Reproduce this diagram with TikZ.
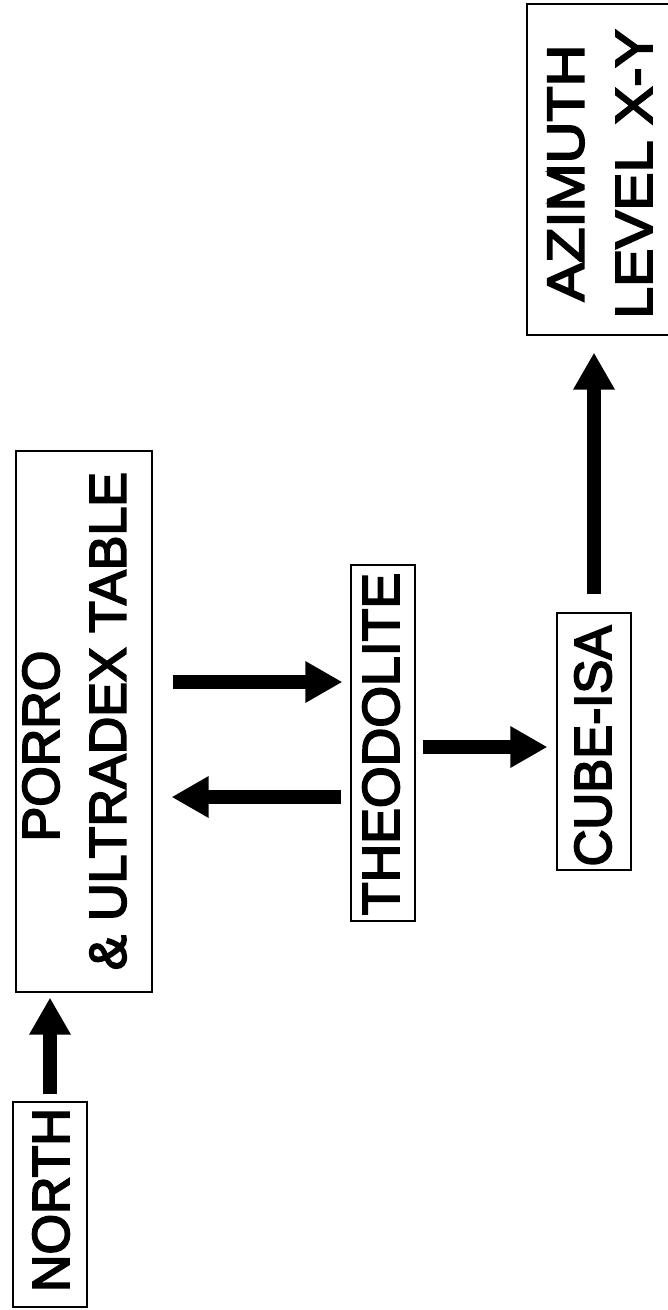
\documentclass[tikz,border=0pt]{standalone}
\usepackage{graphicx}
\usepackage{fontspec}
\setmainfont{Liberation Sans}
\newfontfamily\lblfont[FakeBold=3.5]{Liberation Sans}
\usetikzlibrary{arrows.meta,calc}
\begin{document}
\begin{tikzpicture}[x=1pt,y=-1pt,
  boxnode/.style={draw, line width=1.1pt, inner sep=0pt},
  lbl/.style={rotate=90, inner sep=0pt, font=\lblfont\fontsize{52}{60}\selectfont},
  bigarrow/.style={line width=14pt, -{Triangle[width=39pt,length=37pt]}}]
\clip (0,0) rectangle (668,1310);
% boxes
\node[boxnode, minimum width=74pt, minimum height=205pt] (north) at (50,1204.5) {};
\node[boxnode, minimum width=136pt, minimum height=541pt] (porro) at (84,721.5) {};
\node[boxnode, minimum width=64pt, minimum height=356pt] (theo) at (383,743) {};
\node[boxnode, minimum width=74pt, minimum height=257pt] (cube) at (594,741.5) {};
\node[boxnode, minimum width=183pt, minimum height=331pt] (az) at (618.5,169.5) {};
% labels
\node[lbl] (tnorth) at (51,1200) {NORTH};
\node[lbl] (tporro) at (41,746) {PORRO};
\node[lbl] (tultra) at (108,721) {\& ULTRADEX TABLE};
\node[lbl] (ttheo) at (381,744) {\scalebox{1.03}[1]{THEODOLITE}};
\node[lbl] (tcube) at (593,746) {\scalebox{0.98}[1]{CUBE-ISA}};
\node[lbl] (taz) at (566,173) {\scalebox{1.11}[1]{AZIMUTH}};
\node[lbl] (tlev) at (634,174) {\scalebox{1.10}[1]{LEVEL X-Y}};
% connector anchor points
\coordinate (a2) at ([yshift=61pt]theo.west);
\coordinate (a3) at ([yshift=-54pt]theo.west);
\coordinate (a4) at ([yshift=-4pt]theo.east);
% arrows
\draw[bigarrow, shorten <=7pt, shorten >=5pt] (north.north) -- (north.north |- porro.south);
\draw[bigarrow, shorten <=20pt, shorten >=8pt] (porro.east |- a2) -- (a2);
\draw[bigarrow, shorten <=9pt, shorten >=19pt] (a3) -- (porro.east |- a3);
\draw[bigarrow, shorten <=7pt, shorten >=9pt] (a4) -- (cube.west |- a4);
\draw[bigarrow, shorten <=18pt, shorten >=17pt] (cube.north) -- (cube.north |- az.south);
\end{tikzpicture}
\end{document}
